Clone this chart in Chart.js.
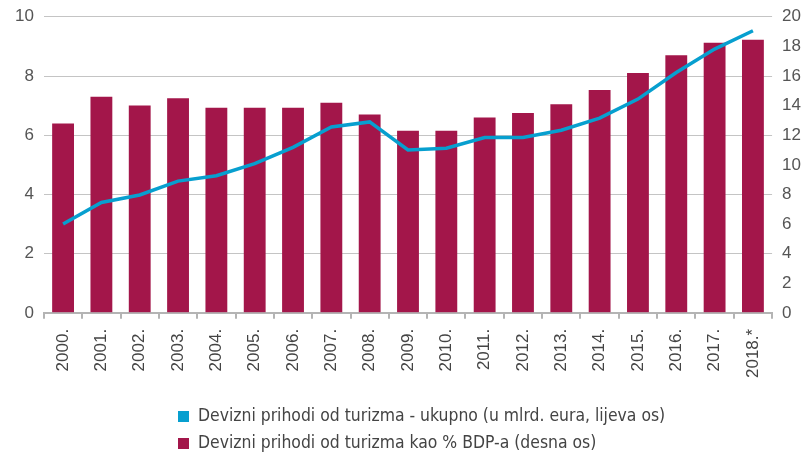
<!DOCTYPE html>
<html>
<head>
<meta charset="utf-8">
<script src="https://cdn.jsdelivr.net/npm/chart.js@4/dist/chart.umd.min.js"></script>
<style>
    html, body { margin: 0; padding: 0; background: #fff; }
    #wrap { position: relative; width: 806px; height: 454px; }
    #legend { position: absolute; left: 178px; top: 404px; font-family: 'Liberation Sans Narrow', 'DejaVu Sans Condensed', sans-serif; font-size: 17.4px; color: #444; }
    #legend div { height: 27px; line-height: 23px; white-space: nowrap; }
    #legend span { display: inline-block; width: 11px; height: 11px; margin-right: 9px; vertical-align: -1px; }
</style>
</head>
<body>
<div id="wrap">
    <canvas id="chart" width="806" height="454"></canvas>
    <div id="legend"></div>
</div>
<script>
const years = ['2000.', '2001.', '2002.', '2003.', '2004.', '2005.', '2006.', '2007.', '2008.', '2009.',
               '2010.', '2011.', '2012.', '2013.', '2014.', '2015.', '2016.', '2017.', '2018.*'];

// u mlrd. eura, lijeva os
const prihodiUkupno = [3.0, 3.73, 3.98, 4.45, 4.63, 5.04, 5.59, 6.28, 6.45, 5.5,
                       5.56, 5.92, 5.92, 6.17, 6.58, 7.22, 8.12, 8.91, 9.53];

// % BDP-a, desna os
const prihodiBdp = [12.8, 14.6, 14.0, 14.5, 13.85, 13.85, 13.85, 14.2, 13.4, 12.3,
                    12.3, 13.2, 13.5, 14.1, 15.05, 16.2, 17.4, 18.25, 18.45];

const leftTicks = [0, 2, 4, 6, 8, 10];
const rightTicks = [0, 2, 4, 6, 8, 10, 12, 14, 16, 18, 20];

const lineLabel = 'Devizni prihodi od turizma - ukupno (u mlrd. eura, lijeva os)';
const barLabel = 'Devizni prihodi od turizma kao % BDP-a (desna os)';

const blue = '#079fcf';
const wine = '#a3164a';
const tickFont = { family: "'Liberation Sans', Arial, sans-serif", size: 17 };
const yTickFont = { family: "'Liberation Sans', Arial, sans-serif", size: 17, lineHeight: 0.8 };

const ctx = document.getElementById('chart').getContext('2d');
new Chart(ctx, {
    type: 'bar',
    data: {
        labels: years,
        datasets: [
            {
                type: 'line',
                label: lineLabel,
                data: prihodiUkupno,
                yAxisID: 'y',
                borderColor: blue,
                backgroundColor: blue,
                borderWidth: 3.5,
                pointRadius: 0,
                tension: 0,
                order: 0
            },
            {
                type: 'bar',
                label: barLabel,
                data: prihodiBdp,
                yAxisID: 'y1',
                backgroundColor: wine,
                barPercentage: 0.57,
                categoryPercentage: 1,
                order: 1
            }
        ]
    },
    options: {
        responsive: false,
        animation: false,
        layout: { padding: { left: 5, right: -5, top: 1, bottom: 66 } },
        plugins: {
            legend: { display: false },
            tooltip: { enabled: false }
        },
        scales: {
            x: {
                grid: { drawOnChartArea: false, drawTicks: true, tickLength: 6, color: '#b4b4b4', lineWidth: 2 },
                border: { color: '#b4b4b4', width: 2 },
                ticks: { color: '#444', font: tickFont, minRotation: 90, maxRotation: 90, padding: 10, autoSkip: false }
            },
            y: {
                position: 'left',
                min: 0,
                max: 10,
                afterBuildTicks: axis => { axis.ticks = leftTicks.map(v => ({ value: v })); },
                grid: { color: '#c4c4c4', lineWidth: 1, drawTicks: false },
                border: { display: false },
                ticks: { color: '#555', font: yTickFont, padding: 10 }
            },
            y1: {
                position: 'right',
                min: 0,
                max: 20,
                afterBuildTicks: axis => { axis.ticks = rightTicks.map(v => ({ value: v })); },
                grid: { drawOnChartArea: false, drawTicks: false },
                border: { display: false },
                ticks: { color: '#555', font: yTickFont, padding: 10 }
            }
        }
    }
});

const legend = document.getElementById('legend');
[[blue, lineLabel], [wine, barLabel]].forEach(([color, text]) => {
    const row = document.createElement('div');
    row.innerHTML = `<span style="background:${color}"></span>${text}`;
    legend.appendChild(row);
});
</script>
</body>
</html>
